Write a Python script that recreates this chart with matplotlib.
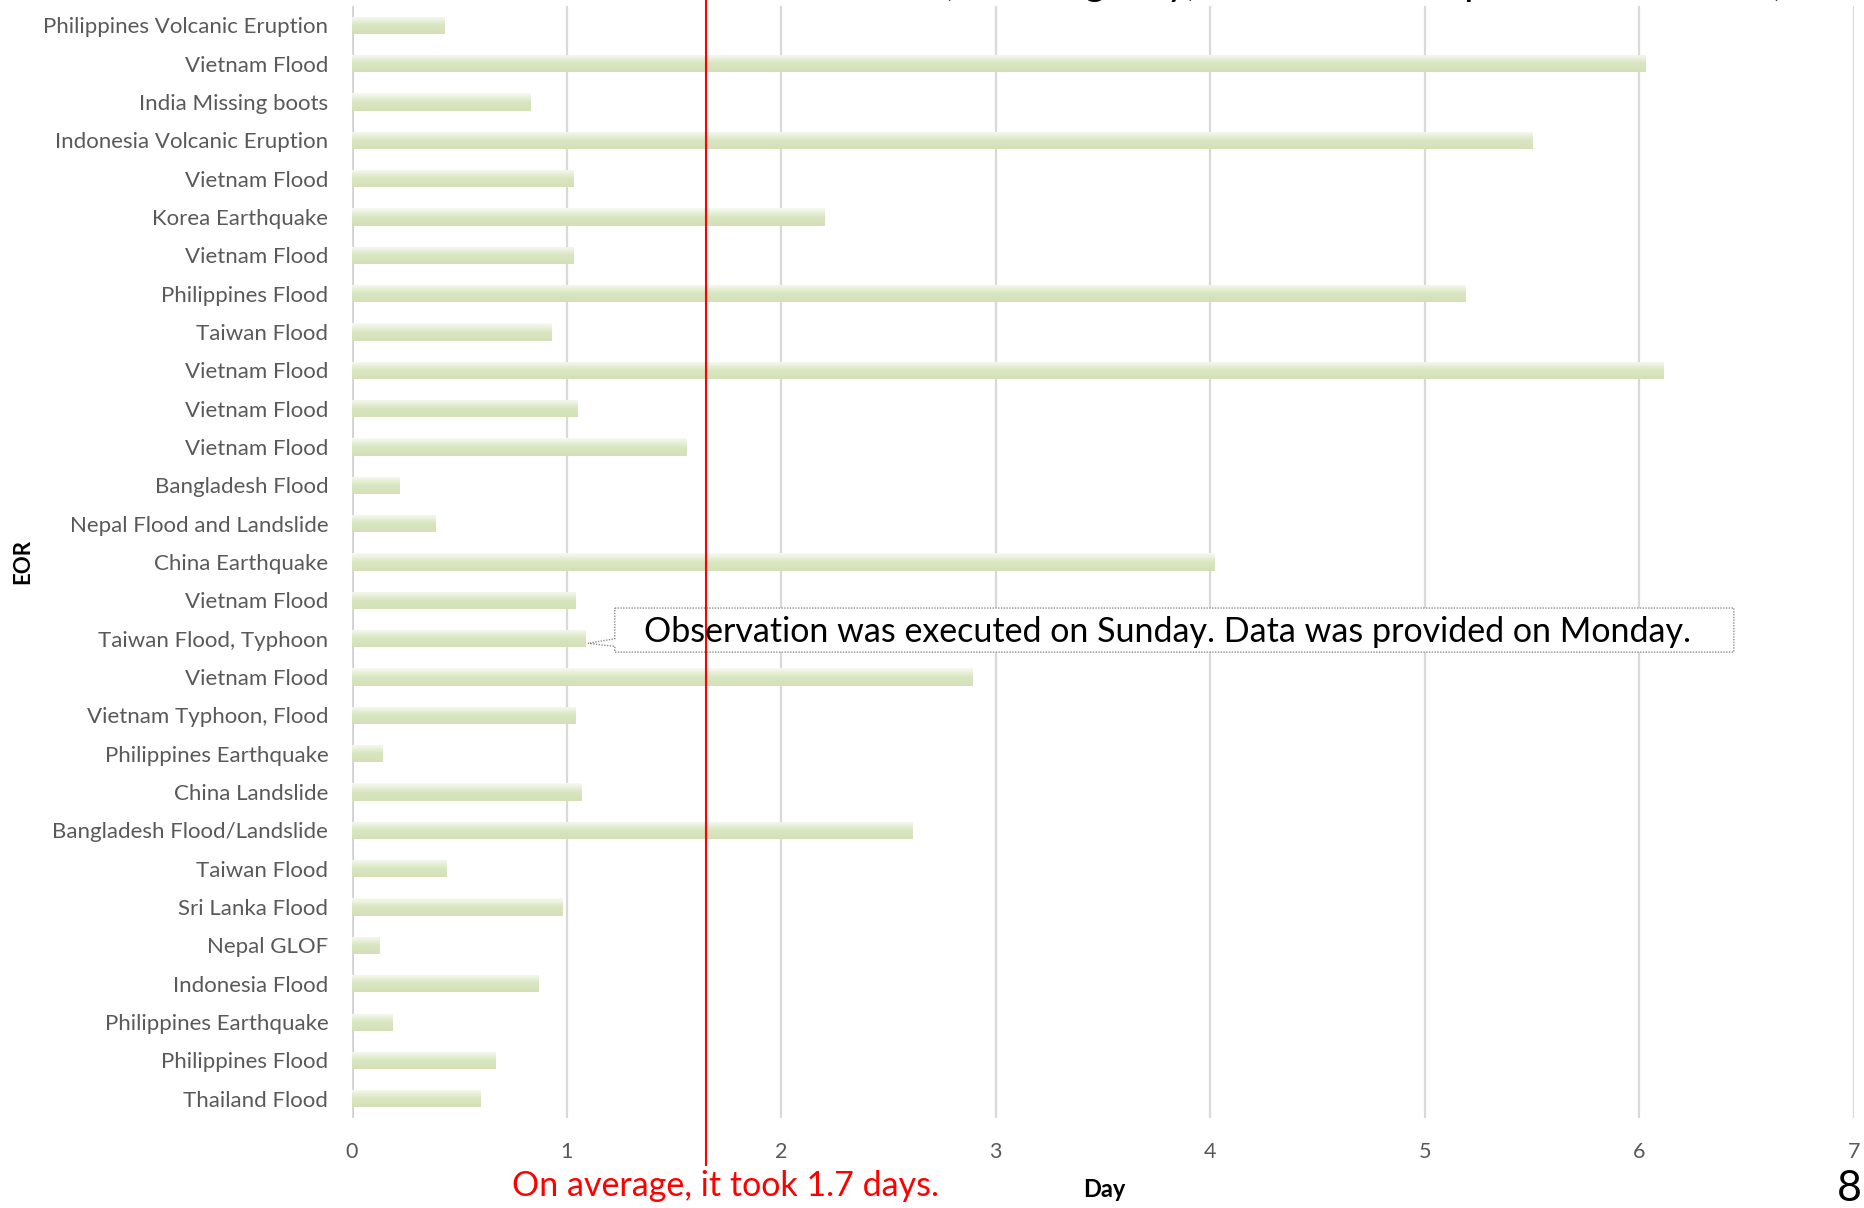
import matplotlib
matplotlib.use("Agg")
import matplotlib.pyplot as plt
import numpy as np
from matplotlib.colors import LinearSegmentedColormap
from matplotlib.patches import Polygon

# EOR cases, top to bottom, and the days until data was provided
eor_names = [
    "Philippines Volcanic Eruption", "Vietnam Flood", "India Missing boots",
    "Indonesia Volcanic Eruption", "Vietnam Flood", "Korea Earthquake",
    "Vietnam Flood", "Philippines Flood", "Taiwan Flood", "Vietnam Flood",
    "Vietnam Flood", "Vietnam Flood", "Bangladesh Flood",
    "Nepal Flood and Landslide", "China Earthquake", "Vietnam Flood",
    "Taiwan Flood, Typhoon", "Vietnam Flood", "Vietnam Typhoon, Flood",
    "Philippines Earthquake", "China Landslide", "Bangladesh Flood/Landslide",
    "Taiwan Flood", "Sri Lanka Flood", "Nepal GLOF", "Indonesia Flood",
    "Philippines Earthquake", "Philippines Flood", "Thailand Flood",
]
days = [
    0.43, 6.03, 0.83, 5.50, 1.03, 2.20, 1.03, 5.19, 0.93, 6.11,
    1.05, 1.56, 0.22, 0.39, 4.02, 1.04, 1.09, 2.89, 1.04, 0.14,
    1.07, 2.61, 0.44, 0.98, 0.13, 0.87, 0.19, 0.67, 0.60,
]
x_ticks = [0, 1, 2, 3, 4, 5, 6, 7]
avg_marker = 1.65          # position of the red "average" line
note_index = 16            # bar the callout points at
note_text = "Observation was executed on Sunday. Data was provided on Monday."
avg_text = "On average, it took 1.7 days."
title_text = "Time to Data Provision (Working Day) from EOR to upload to the DPN)"

plt.rcParams['font.family'] = ['Lato', 'DejaVu Sans']

fig = plt.figure(figsize=(18.65, 12.08), dpi=100)
ax = fig.add_axes([0.1887, 0.0745, 0.8054, 0.9205])

y = np.arange(len(days))
bar_h = 0.45
bars = ax.barh(y, days, height=bar_h, color="#d6e3bc", zorder=2)

# vertical gradient inside each bar (light top -> green)
cmap = LinearSegmentedColormap.from_list(
    "bar", [(0, "#f7faf2"), (0.5, "#d9e6c2"), (1, "#d3e0b7")])
grad = np.linspace(0, 1, 64).reshape(-1, 1)
for b in bars:
    x0, y0 = b.get_x(), b.get_y()
    w, h = b.get_width(), b.get_height()
    img = ax.imshow(grad, extent=[x0, x0 + w, y0 + h, y0], cmap=cmap,
                    aspect="auto", origin="upper", zorder=3)
    img.set_clip_path(b)

ax.set_xlim(0, 7)
ax.set_ylim(len(days) - 0.5, -0.5)
ax.set_yticks(y)
ax.set_yticklabels(eor_names)
ax.set_xticks(x_ticks)
ax.tick_params(axis="y", length=0, pad=17, labelsize=16, labelcolor="#595959")
ax.tick_params(axis="x", length=0, pad=17, labelsize=15.5, labelcolor="#595959")
ax.grid(axis="x", color="#d9d9d9", lw=1.6, zorder=0)
ax.grid(axis="y", visible=False)
for s in ax.spines.values():
    s.set_visible(False)
ax.axvline(0, color="#d0d0d0", lw=2.2, zorder=1)

# red average line, running past the axes
ax.axvline(avg_marker, ymin=-0.042, ymax=1.01, color="#ff0000", lw=1.5,
           zorder=6, clip_on=False)

# callout box
bx0, bx1 = 1.225, 6.44
by0, by1 = note_index - 0.80, note_index + 0.35
tip_x = days[note_index] + 0.01
tip_y = note_index + 0.12
callout = Polygon([(bx0, by0), (bx1, by0), (bx1, by1), (bx0, by1),
                   (bx0, tip_y + 0.08), (tip_x, tip_y), (bx0, tip_y - 0.12)],
                  closed=True, facecolor="white", edgecolor="#8c8c8c",
                  lw=1.0, linestyle=(0, (1, 1)), zorder=5)
ax.add_patch(callout)
ax.text((bx0 + bx1) / 2 - 0.03, (by0 + by1) / 2 + 0.05, note_text, ha="center",
        va="center", fontsize=24.5, color="black", zorder=7)

# figure level texts
fig.text(0.012, 0.535, "EOR", rotation=90, ha="center", va="center",
         fontsize=16, fontweight="bold", color="black")
fig.text(0.592, 0.0157, "Day", ha="center", va="center", fontsize=17,
         fontweight="bold", color="black")
fig.text(0.389, 0.018, avg_text, ha="center", va="center", fontsize=24.5,
         color="#ff0000")
fig.text(0.9985, 0.016, "8", ha="right", va="center", fontsize=31,
         color="black")
# slide title, cut off at the top edge of the page
fig.text(0.505, 1.004, title_text[title_text.index("("):], ha="left",
         va="baseline", fontsize=29, color="black")

fig.savefig("out.png", dpi=100, facecolor="white")
